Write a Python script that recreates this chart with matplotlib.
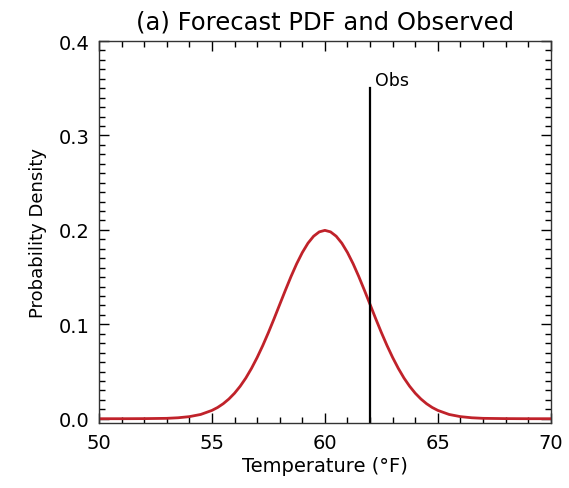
import numpy as np
import matplotlib.pyplot as plt
from matplotlib.ticker import MultipleLocator

# Forecast PDF (temperature in F, density)
temps = [50, 51, 52, 53, 53.5, 54, 54.5, 55, 55.25, 55.5, 55.75,
         56, 56.25, 56.5, 56.75, 57, 57.25, 57.5, 57.75, 58, 58.25, 58.5, 58.75,
         59, 59.25, 59.5, 59.75, 60, 60.25, 60.5, 60.75, 61, 61.25, 61.5, 61.75,
         62, 62.25, 62.5, 62.75, 63, 63.25, 63.5, 63.75, 64, 64.25, 64.5, 64.75,
         65, 65.5, 66, 66.5, 67, 68, 69, 70]
density = [0.0, 0.0, 0.0001, 0.0004, 0.0010, 0.0022, 0.0045, 0.0088, 0.0119, 0.0159, 0.0209,
           0.0270, 0.0344, 0.0431, 0.0533, 0.0648, 0.0775, 0.0913, 0.1059, 0.1210, 0.1360, 0.1506, 0.1641,
           0.1760, 0.1859, 0.1933, 0.1979, 0.1995, 0.1979, 0.1933, 0.1859, 0.1760, 0.1641, 0.1506, 0.1360,
           0.1210, 0.1059, 0.0913, 0.0775, 0.0648, 0.0533, 0.0431, 0.0344, 0.0270, 0.0209, 0.0159, 0.0119,
           0.0088, 0.0045, 0.0022, 0.0010, 0.0004, 0.0001, 0.0, 0.0]

obs_temp = 62
obs_top = 0.35

fig = plt.figure(figsize=(5.69, 4.89), dpi=100)
ax = fig.add_axes([0.174, 0.133, 0.794, 0.781])

ax.plot(temps, density, color='#c0222a', lw=2.0)
ymin = -0.0045
ax.plot([obs_temp, obs_temp], [ymin, obs_top], color='black', lw=1.6)
ax.text(obs_temp + 0.22, obs_top - 0.001, 'Obs', fontsize=12.5, va='bottom', ha='left')

ax.set_xlim(50, 70)
ax.set_ylim(ymin, 0.4)
ax.xaxis.set_major_locator(MultipleLocator(5))
ax.xaxis.set_minor_locator(MultipleLocator(1))
ax.yaxis.set_major_locator(MultipleLocator(0.1))
ax.yaxis.set_minor_locator(MultipleLocator(0.01))
ax.yaxis.set_major_formatter(plt.FormatStrFormatter('%.1f'))
ax.tick_params(which='both', direction='in', top=True, right=True, labelsize=14, pad=7)
ax.tick_params(which='major', length=7, width=1)
ax.tick_params(which='minor', length=4, width=1)
for s in ax.spines.values():
    s.set_linewidth(1)
    s.set_color('#333333')

ax.set_xlabel('Temperature (°F)', fontsize=14, labelpad=3)
ax.set_ylabel('Probability Density', fontsize=13, labelpad=8)
ax.set_title('(a) Forecast PDF and Observed', fontsize=17.5, pad=9)

fig.savefig('out.png', dpi=100)
